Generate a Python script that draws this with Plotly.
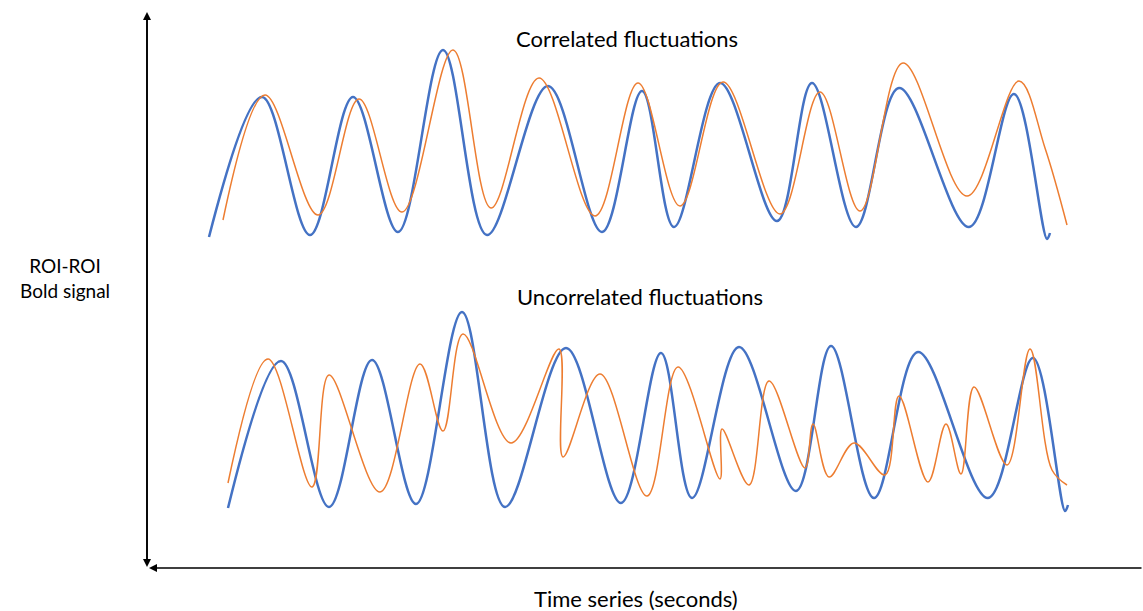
import plotly.graph_objects as go

# Schematic curves (time in px-like units, signal on a screen-down scale)
corr_blue_t = [209, 262, 310, 353, 398, 443, 487, 548, 602, 642, 674, 720, 777, 812, 856, 899, 969, 1014, 1047, 1050]
corr_blue_v = [237, 97, 235, 97, 232, 50, 235, 86, 232, 91, 227, 83, 221, 83, 227, 88, 227, 94, 239, 233]

corr_orange_t = [223, 265, 318, 359, 402, 453, 491, 539, 595, 638, 680, 723, 780, 820, 860, 903, 967, 1019, 1045, 1067]
corr_orange_v = [220, 95, 215, 99, 212, 50, 208, 78, 216, 83, 206, 82, 214, 92, 211, 63, 196, 81, 148, 225]

unc_blue_t = [228, 281, 329, 372, 416, 462, 505, 566, 621, 661, 692, 739, 796, 831, 874, 918, 988, 1033, 1065, 1068]
unc_blue_v = [508, 361, 507, 360, 504, 312, 507, 348, 503, 353, 498, 347, 491, 346, 498, 352, 498, 358, 511, 505]

unc_orange_t = [228, 268, 312, 329, 380, 420, 443, 463, 511, 559, 563, 600, 647, 678, 720, 722, 749, 769, 805,
                813, 829, 854, 885, 899, 928, 946, 961, 974, 1007, 1030, 1052, 1067]
unc_orange_v = [483, 359, 487, 375, 492, 364, 431, 334, 443, 349, 457, 374, 496, 367, 479, 429, 485, 381, 468,
                424, 477, 443, 475, 396, 482, 424, 474, 387, 465, 349, 470, 485]

panel_titles = ["Correlated fluctuations", "Uncorrelated fluctuations"]
y_title = "ROI-ROI<br>Bold signal"
x_title = "Time series (seconds)"

BLUE = '#4472C4'
ORANGE = '#ED7D31'
FONT = 'Lato, Open Sans, sans-serif'

fig = go.Figure()
for t, v, color, width in [
    (corr_blue_t, corr_blue_v, BLUE, 2.5),
    (corr_orange_t, corr_orange_v, ORANGE, 1.5),
    (unc_blue_t, unc_blue_v, BLUE, 2.5),
    (unc_orange_t, unc_orange_v, ORANGE, 1.5),
]:
    fig.add_trace(go.Scatter(
        x=t, y=v, mode='lines',
        line=dict(color=color, width=width, shape='spline', smoothing=1.0),
        hoverinfo='skip', showlegend=False,
    ))

# hand-drawn style axes with arrowheads
arrow = dict(xref='x', yref='y', axref='x', ayref='y', text='', showarrow=True,
             arrowhead=2, arrowsize=1, arrowwidth=1.6, arrowcolor='black')
fig.add_annotation(x=147, y=12, ax=147, ay=566, **arrow)
fig.add_annotation(x=147, y=567, ax=147, ay=14, **arrow)
fig.add_annotation(x=149, y=568, ax=1143, ay=568, **arrow)

fig.add_annotation(x=627, y=38, text=panel_titles[0], showarrow=False,
                   font=dict(size=22, color='black', family=FONT))
fig.add_annotation(x=640, y=296, text=panel_titles[1], showarrow=False,
                   font=dict(size=22, color='black', family=FONT))
fig.add_annotation(x=65, y=278, text=y_title, showarrow=False,
                   font=dict(size=19, color='black', family=FONT))
fig.add_annotation(x=636, y=598, text=x_title, showarrow=False,
                   font=dict(size=22, color='black', family=FONT))

fig.update_layout(
    width=1143, height=611,
    margin=dict(l=0, r=0, t=0, b=0),
    paper_bgcolor='white', plot_bgcolor='white',
)
fig.update_xaxes(range=[0, 1143], visible=False, fixedrange=True)
fig.update_yaxes(range=[611, 0], visible=False, fixedrange=True)

# drop the page's default body margin so the figure sits flush with the window
fig.write_html("out.html", config={'displayModeBar': False},
               post_script="document.body.style.margin='0';document.body.style.overflow='hidden';")
